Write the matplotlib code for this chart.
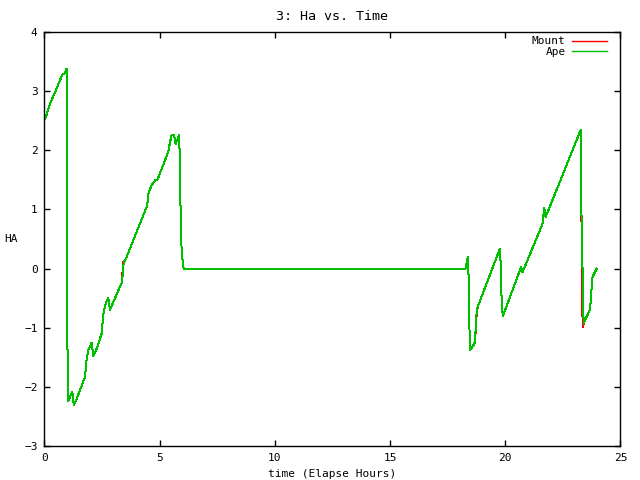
import matplotlib
matplotlib.use("Agg")
import matplotlib.pyplot as plt

# Ape HA vs time (hours)
ape_t = [0.0, 0.09, 0.24, 0.46, 0.60, 0.79, 0.89, 0.96, 0.97, 0.98, 1.03,
         1.11, 1.21, 1.27, 1.40, 1.76, 1.83, 1.90, 2.05, 2.12, 2.27, 2.48,
         2.55, 2.63, 2.77, 2.84, 3.28, 3.35, 3.40, 3.44, 3.54, 4.46, 4.51,
         4.65, 4.80, 4.90, 5.37, 5.45, 5.52, 5.62, 5.69, 5.85, 5.87, 5.91,
         5.95, 6.00, 6.04, 18.28, 18.35, 18.39, 18.41, 18.45, 18.48, 18.58,
         18.69, 18.73, 18.80, 19.77, 19.80, 19.84, 19.89, 20.68, 20.75,
         21.62, 21.69, 21.75, 23.27, 23.29, 23.33, 23.36, 23.40, 23.43,
         23.68, 23.75, 23.79, 23.97]
ape_ha = [2.53, 2.60, 2.79, 2.98, 3.12, 3.29, 3.30, 3.38, 1.97, -0.83, -2.24,
          -2.17, -2.08, -2.31, -2.20, -1.83, -1.52, -1.38, -1.25, -1.48, -1.35, -1.10,
          -0.79, -0.62, -0.49, -0.70, -0.30, -0.25, -0.08, 0.11, 0.17, 1.07, 1.27,
          1.41, 1.49, 1.50, 1.97, 2.14, 2.26, 2.26, 2.11, 2.26, 1.80, 0.93,
          0.34, 0.11, 0.0, 0.0, 0.15, 0.20, -0.23, -1.10, -1.38, -1.32,
          -1.24, -0.82, -0.65, 0.34, 0.07, -0.51, -0.81, 0.02, -0.06,
          0.76, 1.03, 0.87, 2.34, 1.27, 0.45, -0.14, -0.93, -0.90,
          -0.69, -0.31, -0.14, 0.0]

# Mount HA vs time (hours), almost the same track as Ape
mount_t = [0.0, 0.09, 0.24, 0.46, 0.60, 0.79, 0.89, 0.96, 0.97, 0.98, 1.03,
           1.11, 1.21, 1.27, 1.40, 1.76, 1.83, 1.90, 2.05, 2.12, 2.27, 2.48,
           2.55, 2.63, 2.77, 2.84, 3.28, 3.35, 3.38, 3.38, 3.42, 3.42, 3.54,
           4.46, 4.51, 4.65, 4.80, 4.90, 5.37, 5.45, 5.52, 5.62, 5.69, 5.85,
           5.87, 5.91, 5.95, 6.00, 6.04, 18.28, 18.35, 18.39, 18.41, 18.45,
           18.48, 18.58, 18.69, 18.74, 18.80, 19.77, 19.80, 19.84, 19.89,
           20.68, 20.75, 21.62, 21.69, 21.75, 23.27, 23.28, 23.32, 23.32,
           23.36, 23.40, 23.43, 23.68, 23.75, 23.79, 23.97]
mount_ha = [2.53, 2.60, 2.79, 2.98, 3.12, 3.29, 3.30, 3.38, 1.97, -0.83, -2.24,
            -2.17, -2.08, -2.31, -2.20, -1.83, -1.52, -1.38, -1.25, -1.48, -1.35, -1.10,
            -0.79, -0.62, -0.49, -0.70, -0.30, -0.25, -0.20, -0.08, -0.06, 0.11, 0.17,
            1.07, 1.27, 1.41, 1.49, 1.50, 1.97, 2.14, 2.26, 2.26, 2.11, 2.26,
            1.80, 0.93, 0.34, 0.11, 0.0, 0.0, 0.15, 0.20, -0.23, -1.10,
            -1.38, -1.32, -1.24, -0.84, -0.65, 0.34, 0.07, -0.51, -0.81,
            0.02, -0.06, 0.76, 1.03, 0.87, 2.34, 1.27, 0.60, -0.14,
            -0.99, -0.93, -0.90, -0.69, -0.31, -0.14, 0.0]

plt.rcParams["font.family"] = "DejaVu Sans Mono"
plt.rcParams["font.size"] = 8

fig = plt.figure(figsize=(6.4, 4.8), dpi=100)
ax = fig.add_axes([0.0695, 0.0708, 0.9, 0.8625])

ax.plot(mount_t, mount_ha, color="#ff0000", lw=0.72, antialiased=False, label="Mount")
ax.plot(ape_t, ape_ha, color="#00c000", lw=0.72, antialiased=False, label="Ape")

ax.set_xlim(0, 25)
ax.set_ylim(-3, 4)
ax.set_xticks([0, 5, 10, 15, 20, 25])
ax.set_yticks(range(-3, 5))
ax.tick_params(direction="in", length=4, width=1, top=True, right=True, pad=5)
for s in ax.spines.values():
    s.set_linewidth(1)

ax.set_title("3: Ha vs. Time", pad=9)
ax.set_xlabel("time (Elapse Hours)", labelpad=4)
ax.set_ylabel("HA", rotation=0, ha="center", va="center")
ax.yaxis.set_label_coords(-0.058, 0.5)

leg = ax.legend(loc="upper right", bbox_to_anchor=(0.984, 1.0), frameon=False,
                markerfirst=False, handlelength=3.1, handletextpad=0.6,
                labelspacing=0.05, borderaxespad=0)
for h in leg.get_lines():
    h.set_linewidth(1.0)

fig.savefig("out.png", dpi=100)
